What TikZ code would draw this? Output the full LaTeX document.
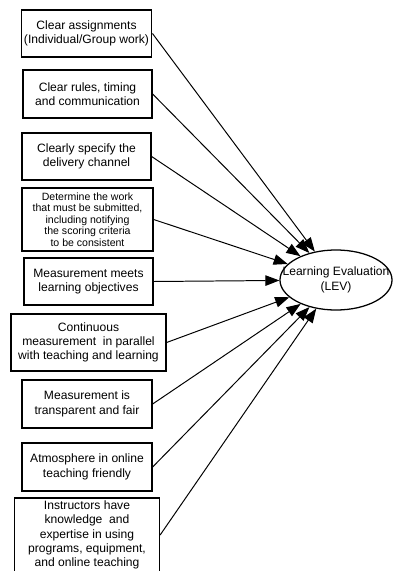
\documentclass[tikz,border=0pt]{standalone}
\usepackage{fontspec}
\setmainfont{Liberation Sans}
\usetikzlibrary{arrows.meta, positioning, shapes.geometric}
\tikzset{
  every picture/.style={font=\fontsize{8.6}{10.2}\selectfont, line width=0.9pt},
  factor/.style args={#1x#2}{draw, align=center, inner sep=2pt, minimum width=#1*0.025cm, minimum height=#2*0.025cm},
  small/.style={font=\fontsize{7.5}{8.2}\selectfont},
  target/.style={draw, ellipse, align=center, inner sep=0pt, minimum width=2.8cm, minimum height=1.5cm},
  arrow/.style={-{Triangle[length=10pt, width=7.5pt]}, line width=0.7pt},
}

\begin{document}
\begin{tikzpicture}[x=0.025cm, y=-0.025cm]
  \useasboundingbox (0,0) rectangle (393,571);

  \node[target] (lev) at (336,280) {\makebox[0pt]{Learning Evaluation}\\ \makebox[0pt]{(LEV)}};

  \node[factor=129x47] (f1) at (86.5,33.5) {Clear assignments\\ (Individual/Group work)};
  \node[factor=129x48] (f2) at (87.5,94) {Clear rules, timing\\ and communication};
  \node[factor=129x47] (f3) at (86.5,156.5) {Clearly specify the\\ delivery channel};
  \node[factor=131x63, small] (f4) at (87.5,219.5) {Determine the work\\ that must be submitted,\\ including notifying\\ the scoring criteria\\ to be consistent};
  \node[factor=129x47] (f5) at (88.5,281.5) {Measurement meets\\ learning objectives};
  \node[factor=155x57] (f6) at (88.5,342.5) {Continuous\\ measurement~ in parallel\\ with teaching and learning};
  \node[factor=130x48] (f7) at (87,404) {Measurement is\\ transparent and fair};
  \node[factor=130x48] (f8) at (87,467) {Atmosphere in online\\ teaching friendly};
  \node[factor=145x74] (f9) at (87,535) {Instructors have\\ knowledge~ and\\ expertise in using\\ programs, equipment,\\ and online teaching};

  \foreach \f in {f1,f2,f3,f4,f5,f6,f7,f8,f9}
    \draw[arrow] (\f.east) -- (lev);
\end{tikzpicture}
\end{document}
